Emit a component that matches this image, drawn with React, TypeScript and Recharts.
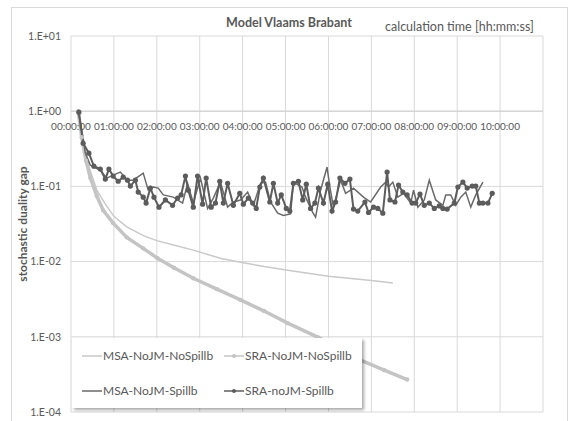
import React from 'react';
import { LineChart, Line, XAxis, YAxis, CartesianGrid, ReferenceLine } from 'recharts';

// time in minutes since start, gap values
const msaNoSpillTimes = [10, 18, 27, 36, 48, 60, 78, 102, 120, 150, 171, 210, 237, 270, 303, 360, 420, 450];
const msaNoSpillValues = [1.0, 0.3, 0.16, 0.09, 0.058, 0.04, 0.029, 0.022, 0.019, 0.016, 0.0142, 0.011, 0.0098, 0.0086, 0.0077, 0.0064, 0.0056, 0.0052];

const sraNoSpillTimes = [10, 15, 21, 27, 36, 45, 59, 78, 101, 121, 144, 171, 204, 237, 270, 303, 345, 375, 405, 438, 470];
const sraNoSpillValues = [1.0, 0.45, 0.22, 0.13, 0.075, 0.048, 0.0325, 0.021, 0.015, 0.0111, 0.0083, 0.006, 0.0043, 0.0031, 0.0022, 0.00152, 0.00099, 0.0007, 0.00049, 0.00036, 0.00027];

const msaSpillTimes = [11, 17, 20, 27, 41, 50, 59, 69, 79, 87, 101, 108, 115, 122, 129, 143, 156, 163, 171, 181, 191, 199, 209, 219, 227, 237, 247, 255, 265, 272, 279, 289, 297, 307, 311, 318, 323, 328, 338, 342, 349, 358, 362, 367, 377, 384, 395, 409, 419, 433, 440, 444, 450, 457, 465, 475, 479, 485, 494, 501, 510, 520, 524, 531, 538, 545, 552, 559, 566, 576];
const msaSpillValues = [0.9, 0.44, 0.277, 0.192, 0.164, 0.129, 0.141, 0.155, 0.121, 0.121, 0.15, 0.089, 0.098, 0.095, 0.077, 0.072, 0.06, 0.11, 0.06, 0.129, 0.051, 0.07, 0.114, 0.053, 0.062, 0.066, 0.084, 0.056, 0.11, 0.114, 0.062, 0.044, 0.041, 0.043, 0.114, 0.104, 0.098, 0.072, 0.045, 0.039, 0.089, 0.18, 0.098, 0.053, 0.121, 0.081, 0.095, 0.072, 0.062, 0.098, 0.114, 0.098, 0.114, 0.072, 0.081, 0.06, 0.089, 0.053, 0.066, 0.121, 0.066, 0.056, 0.077, 0.077, 0.056, 0.072, 0.084, 0.053, 0.077, 0.114];

const sraSpillTimes = [11, 17, 25, 32, 41, 48, 53, 59, 66, 73, 79, 83, 90, 94, 101, 105, 111, 116, 123, 132, 142, 149, 154, 160, 164, 171, 177, 184, 189, 196, 202, 208, 213, 219, 227, 236, 241, 248, 254, 259, 264, 269, 278, 283, 289, 294, 301, 306, 311, 318, 324, 329, 335, 341, 346, 353, 359, 365, 370, 376, 383, 390, 395, 401, 411, 416, 423, 429, 436, 442, 446, 453, 458, 464, 470, 477, 482, 488, 494, 501, 508, 515, 520, 526, 536, 541, 548, 554, 561, 566, 571, 576, 583, 589];
const sraSpillValues = [0.97, 0.375, 0.277, 0.186, 0.17, 0.125, 0.17, 0.137, 0.117, 0.133, 0.121, 0.101, 0.121, 0.084, 0.072, 0.06, 0.095, 0.072, 0.053, 0.066, 0.056, 0.07, 0.077, 0.137, 0.089, 0.053, 0.137, 0.058, 0.129, 0.053, 0.06, 0.117, 0.06, 0.11, 0.056, 0.081, 0.058, 0.07, 0.06, 0.051, 0.098, 0.129, 0.062, 0.11, 0.06, 0.077, 0.051, 0.047, 0.11, 0.117, 0.066, 0.107, 0.051, 0.06, 0.095, 0.06, 0.107, 0.047, 0.062, 0.129, 0.11, 0.125, 0.05, 0.047, 0.062, 0.045, 0.053, 0.051, 0.044, 0.155, 0.066, 0.062, 0.104, 0.084, 0.077, 0.06, 0.06, 0.079, 0.056, 0.06, 0.051, 0.055, 0.051, 0.05, 0.06, 0.098, 0.114, 0.095, 0.101, 0.101, 0.06, 0.06, 0.06, 0.081];

const xTicks = [0, 60, 120, 180, 240, 300, 360, 420, 480, 540, 600, 660];
const yTicks = [0.0001, 0.001, 0.01, 0.1, 1, 10];

const series = [
	{ name: 'MSA-NoJM-NoSpillb', times: msaNoSpillTimes, values: msaNoSpillValues, color: '#c9c9c9', width: 1.5, dot: 0 },
	{ name: 'SRA-NoJM-NoSpillb', times: sraNoSpillTimes, values: sraNoSpillValues, color: '#c4c4c4', width: 3.5, dot: 2.2 },
	{ name: 'MSA-NoJM-Spillb', times: msaSpillTimes, values: msaSpillValues, color: '#6a6a6a', width: 1.5, dot: 0 },
	{ name: 'SRA-noJM-Spillb', times: sraSpillTimes, values: sraSpillValues, color: '#5c5c5c', width: 2, dot: 2.6 },
];

const W = 571;
const H = 421;
const xAxisH = 1;
const margin = { top: 36, right: 28, bottom: 8, left: 11 };
const plotH = H - margin.top - margin.bottom - xAxisH;
// the time axis crosses at 1.E+00, one decade below the top
const xLabelY = margin.top + plotH / 5 + 19;

const font = 'Lato, "Open Sans", sans-serif';
const textColor = '#595959';

const fmtTime = (m: number) => {
	const h = Math.floor(m / 60);
	const mm = Math.round(m % 60);
	return `${String(h).padStart(2, '0')}:${String(mm).padStart(2, '0')}:00`;
};

const fmtExp = (v: number) => {
	const e = Math.round(Math.log10(v));
	return `1.E${e < 0 ? '-' : '+'}${String(Math.abs(e)).padStart(2, '0')}`;
};

const renderXTick = (props: any) => {
	const { x, payload } = props;
	if (payload.value > 600) return <g />;
	return (
		<text x={x} y={xLabelY} textAnchor='middle' fontSize={10} fontFamily={font} style={{ fill: textColor }}>
			{fmtTime(payload.value)}
		</text>
	);
};

const LegendBox = () => (
	<div
		style={{
			position: 'absolute',
			left: 72,
			top: 338,
			width: 290,
			height: 70,
			background: '#fff',
			boxShadow: '2px 2px 3px rgba(0,0,0,0.35)',
			display: 'grid',
			gridTemplateColumns: '142px 148px',
			gridTemplateRows: '35px 35px',
			alignItems: 'center',
			fontFamily: font,
			fontSize: 12,
			color: textColor,
		}}
	>
		{series.map(s => (
			<div key={s.name} style={{ display: 'flex', alignItems: 'center', paddingLeft: 10 }}>
				<svg width={20} height={8} style={{ marginRight: 1 }}>
					<line x1={0} y1={4} x2={20} y2={4} stroke={s.color} strokeWidth={1.5} />
					{s.dot > 0 && <circle cx={10} cy={4} r={2} fill={s.color} />}
				</svg>
				<span>{s.name}</span>
			</div>
		))}
	</div>
);

export default function App() {
	return (
		<div style={{ position: 'absolute', left: 0, top: 0, width: W, height: H, background: '#fff' }}>
			<div
				style={{
					position: 'absolute',
					left: 11,
					top: 7,
					width: 555,
					height: 420,
					border: '1px solid #d9d9d9',
				}}
			/>
			<div
				style={{
					position: 'absolute',
					left: 0,
					width: 578,
					top: 15,
					textAlign: 'center',
					fontFamily: font,
					fontWeight: 'bold',
					fontSize: 12.5,
					color: textColor,
				}}
			>
				Model Vlaams Brabant
			</div>
			<div
				style={{
					position: 'absolute',
					left: 385,
					top: 19,
					fontFamily: font,
					fontSize: 12.5,
					color: textColor,
					whiteSpace: 'nowrap',
				}}
			>
				calculation time [hh:mm:ss]
			</div>
			<div
				style={{
					position: 'absolute',
					left: 22,
					top: 224,
					transform: 'translate(-50%, -50%) rotate(-90deg)',
					fontFamily: font,
					fontWeight: 'bold',
					fontSize: 12,
					color: textColor,
					whiteSpace: 'nowrap',
				}}
			>
				stochastic duality gap
			</div>
			<div style={{ position: 'absolute', left: 0, top: 0 }}>
				<LineChart width={W} height={H} margin={margin}>
					<CartesianGrid stroke='#d9d9d9' />
					<XAxis
						dataKey='t'
						type='number'
						domain={[0, 660]}
						ticks={xTicks}
						height={xAxisH}
						axisLine={false}
						tickLine={false}
						tick={renderXTick}
						interval={0}
						allowDataOverflow
					/>
					<YAxis
						scale='log'
						type='number'
						domain={[0.0001, 10]}
						ticks={yTicks}
						width={60}
						axisLine={false}
						tickLine={false}
						tickSize={0}
						tickMargin={10}
						tickFormatter={fmtExp}
						tick={{ fontSize: 10.5, fill: textColor, fontFamily: font }}
						allowDataOverflow
					/>
					<ReferenceLine y={1} stroke='#cfcfcf' />
					{series.map(s => (
						<Line
							key={s.name}
							name={s.name}
							data={s.times.map((t, i) => ({ t, v: s.values[i] }))}
							dataKey='v'
							type='linear'
							stroke={s.color}
							strokeWidth={s.width}
							dot={s.dot ? { r: s.dot, fill: s.color, stroke: 'none' } : false}
							activeDot={false}
							isAnimationActive={false}
						/>
					))}
				</LineChart>
			</div>
			<LegendBox />
		</div>
	);
}
